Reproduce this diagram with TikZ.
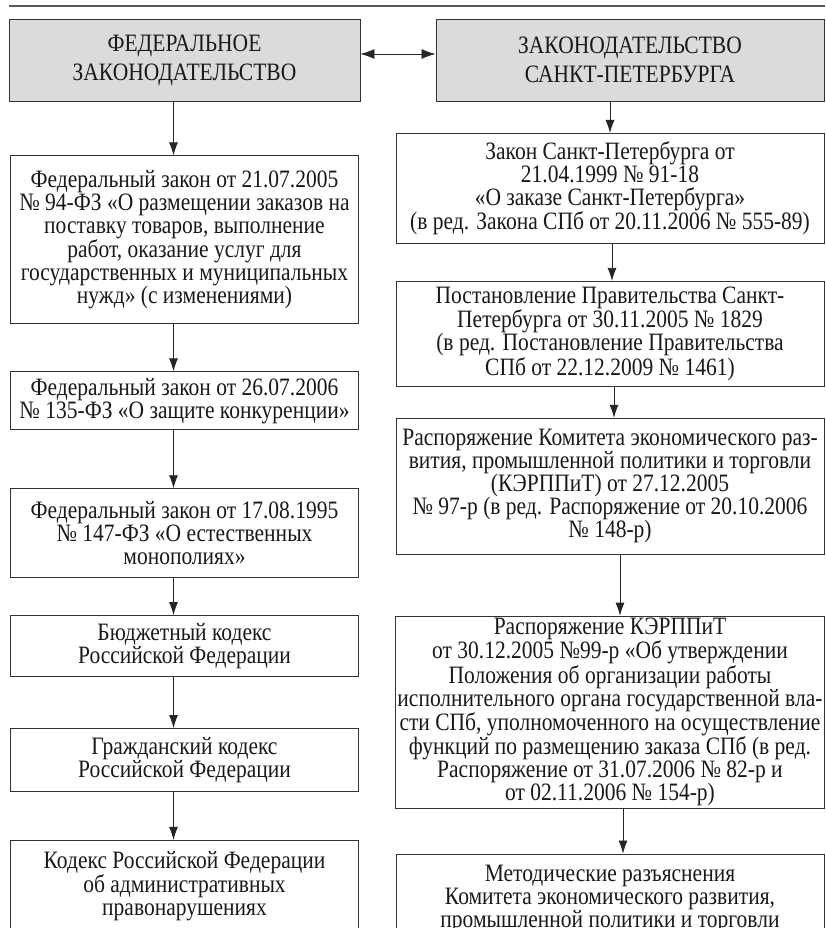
\documentclass[tikz,border=0pt]{standalone}
\usepackage{fontspec}
\setmainfont{Liberation Serif}[FakeStretch=0.86]
\usepackage{tikz}
\usetikzlibrary{arrows.meta,positioning}
\tikzset{
  lawbox/.style={draw=black!80, line width=0.9pt, align=center, inner xsep=2pt, inner ysep=2pt, font=\fontsize{25}{23}\selectfont, text=black!90},
  leftbox/.style={lawbox, minimum width=348pt},
  rightbox/.style={lawbox, minimum width=428pt},
  headbox/.style={lawbox, fill=gray!28, minimum height=82pt, font=\fontsize{25}{29}\selectfont},
  lawarrow/.style={-{Latex[length=13pt,width=9pt]}, line width=0.8pt, draw=black!85}
}

\begin{document}
\begin{tikzpicture}[x=1pt, y=-1pt]
  \useasboundingbox (0,0) rectangle (825,928);
  \draw[line width=2pt, black!65] (9,6) -- (825,6);

  \node[headbox, minimum width=351pt] (fedhead) at (184.5,60) {ФЕДЕРАЛЬНОЕ\\ЗАКОНОДАТЕЛЬСТВО};
  \node[headbox, minimum width=388pt] (spbhead) at (630,60) {ЗАКОНОДАТЕЛЬСТВО\\САНКТ-ПЕТЕРБУРГА};

  % federal column
  \node[leftbox, minimum height=168pt, below=54pt of fedhead] (fz94) {Федеральный закон от 21.07.2005\\№ 94-ФЗ «О размещении заказов на\\поставку товаров, выполнение\\работ, оказание услуг для\\государственных и муниципальных\\нужд» (с изменениями)};
  \node[leftbox, minimum height=58pt, below=47pt of fz94] (fz135) {Федеральный закон от 26.07.2006\\№ 135-ФЗ «О защите конкуренции»};
  \node[leftbox, minimum height=89pt, below=58pt of fz135] (fz147) {Федеральный закон от 17.08.1995\\№ 147-ФЗ «О естественных\\монополиях»};
  \node[leftbox, minimum height=61pt, below=37pt of fz147] (budget) {Бюджетный кодекс\\Российской Федерации};
  \node[leftbox, minimum height=63pt, below=51pt of budget] (civil) {Гражданский кодекс\\Российской Федерации};
  \node[leftbox, minimum height=92pt, below=48pt of civil] (koap) {Кодекс Российской Федерации\\об административных\\правонарушениях};

  % st petersburg column
  \node[rightbox, minimum height=110pt, anchor=north] (spb91) at (610,133) {Закон Санкт-Петербурга от\\21.04.1999 № 91-18\\«О заказе Санкт-Петербурга»\\(в ред. Закона СПб от 20.11.2006 № 555-89)};
  \node[rightbox, minimum height=105pt, below=37pt of spb91] (post1829) {Постановление Правительства Санкт-\\Петербурга от 30.11.2005 № 1829\\(в ред. Постановление Правительства\\СПб от 22.12.2009 № 1461)};
  \node[rightbox, minimum height=136pt, below=31pt of post1829] (rasp97) {Распоряжение Комитета экономического раз-\\вития, промышленной политики и торговли\\(КЭРППиТ) от 27.12.2005\\№ 97-р (в ред. Распоряжение от 20.10.2006\\№ 148-р)};
  \node[rightbox, minimum height=190pt, below=61pt of rasp97] (rasp99) {Распоряжение КЭРППиТ\\от 30.12.2005 №99-р «Об утверждении\\Положения об организации работы\\исполнительного органа государственной вла-\\сти СПб, уполномоченного на осуществление\\функций по размещению заказа СПб (в ред.\\Распоряжение от 31.07.2006 № 82-р и\\от 02.11.2006 № 154-р)};
  \node[rightbox, minimum height=90pt, below=45pt of rasp99] (method) {Методические разъяснения\\Комитета экономического развития,\\промышленной политики и торговли};

  \draw[{Latex[length=14pt,width=10pt]}-{Latex[length=14pt,width=10pt]}, line width=0.8pt, draw=black!85] ([yshift=6pt]fedhead.east) -- ([yshift=6pt]spbhead.west);

  \draw[lawarrow] ([xshift=-11pt]fedhead.south) -- ([xshift=-11pt]fz94.north);
  \draw[lawarrow] ([xshift=-11pt]fz94.south) -- ([xshift=-11pt]fz135.north);
  \draw[lawarrow] ([xshift=-11pt]fz135.south) -- ([xshift=-11pt]fz147.north);
  \draw[lawarrow] ([xshift=-11pt]fz147.south) -- ([xshift=-11pt]budget.north);
  \draw[lawarrow] ([xshift=-11pt]budget.south) -- ([xshift=-11pt]civil.north);
  \draw[lawarrow] ([xshift=-11pt]civil.south) -- ([xshift=-11pt]koap.north);

  \draw[lawarrow] (spbhead.south -| spb91.north) -- (spb91.north);
  \draw[lawarrow] ([xshift=2pt]spb91.south) -- ([xshift=2pt]post1829.north);
  \draw[lawarrow] ([xshift=4pt]post1829.south) -- ([xshift=4pt]rasp97.north);
  \draw[lawarrow] ([xshift=10pt]rasp97.south) -- ([xshift=10pt]rasp99.north);
  \draw[lawarrow] ([xshift=13pt]rasp99.south) -- ([xshift=13pt]method.north);
\end{tikzpicture}
\end{document}
